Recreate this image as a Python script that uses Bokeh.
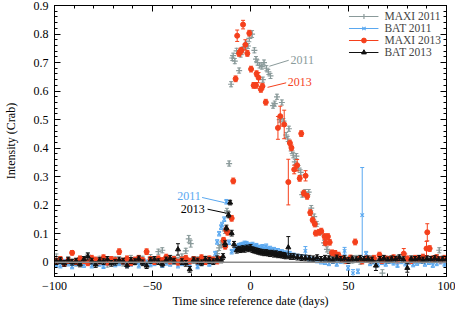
from bokeh.plotting import figure
from bokeh.models import (Range1d, LinearAxis, Span, Label, Legend, LegendItem,
                          ColumnDataSource, Arrow, SingleIntervalTicker, CustomJSTickFormatter)
from bokeh.embed import file_html
from bokeh.resources import INLINE

FONT = "Liberation Serif"

# ---------------- data ----------------
maxi11_t = [-99, -97, -95, -93, -91, -89, -87, -85, -83, -81, -79, -77, -75, -73, -71, -69,
            -67, -65, -63, -61, -59, -57, -55, -53, -51, -49, -47, -45, -43, -41, -39, -37,
            -35, -33, -31.5, -30.5, -29, -27, -25, -23, -21, -19, -17, -16, -15, -14, -13, -12,
            -10.9, -9.9, -9.3, -8.8, -8, -7.1, -5.8, -5, -4, -3, -2.1, -1.3, -0.6, 0.8,
            2, 2.8, 3.6, 4.6, 5.8, 6.3, 6.9, 8.1, 9.1, 10.2, 11.5, 12.4, 13.5, 14.9, 16, 16.8,
            18.2, 19, 19.6, 21, 21.8, 22.6, 23.4, 24.5, 25.6, 26.4, 27.9, 29.7, 31, 32.5, 33.8, 35.8,
            37.5, 39, 40.5, 42, 44,
            46, 48, 50, 52, 54, 56, 58, 60, 62, 64, 66, 67.3, 69, 71, 73, 75,
            77, 79, 81, 83, 85, 87, 89, 91, 93, 95, 96.3, 98, 99.5]
maxi11_v = [0.020, 0.004, -0.006, 0.008, 0.002, -0.004, 0.010, 0.006, 0.025, 0.004, -0.002, 0.012, 0.006, -0.008, 0.004, 0.010,
            0.002, -0.004, 0.008, 0.015, 0.000, 0.006, 0.012, -0.005, 0.018, 0.010, 0.037, 0.042, 0.010, 0.004, 0.012, 0.008,
            0.020, 0.040, 0.082, 0.065, 0.006, 0.010, 0.000, 0.012, 0.004, 0.010, 0.030, 0.050, 0.062, 0.075, 0.110, 0.180,
            0.346, 0.624, 0.716, 0.724, 0.705, 0.741, 0.672, 0.728, 0.745, 0.755, 0.766, 0.758, 0.785, 0.800,
            0.743, 0.712, 0.700, 0.690, 0.686, 0.640, 0.700, 0.680, 0.667, 0.653, 0.549, 0.556, 0.580, 0.500, 0.560, 0.495,
            0.446, 0.432, 0.468, 0.390, 0.375, 0.352, 0.372, 0.330, 0.315, 0.237, 0.246, 0.246, 0.190, 0.160, 0.134, 0.105,
            0.068, 0.045, 0.031, 0.020, 0.015,
            0.010, 0.004, 0.012, 0.006, 0.015, 0.002, 0.010, 0.008, 0.014, 0.004, 0.010, -0.038, 0.006, 0.012, 0.004, 0.015,
            0.008, 0.020, 0.006, 0.010, 0.004, 0.014, 0.008, 0.012, 0.006, 0.018, 0.042, 0.010, 0.006]
maxi11_err_default = 0.009
maxi11_err_special = {-31.5: 0.012, -30.5: 0.012, 0.8: 0.012, -0.6: 0.012, 67.3: 0.012}

bat11_t = [-99, -97, -95, -93, -91, -89, -87, -85, -83, -81, -79, -77, -75, -73, -71, -69,
           -67, -65, -63, -61, -59, -57, -55, -53, -51, -49, -47, -45, -43, -41, -39, -37,
           -35, -33, -31, -29, -27, -25, -23, -21, -19,
           -18, -17, -16, -15, -14.5, -13.4, -12.3, -11, -9.6,
           -8, -7, -6, -5, -4, -3, -2, -1, 0, 1, 2, 3, 4, 5, 6, 7, 8, 9, 10, 11, 12, 13, 14, 15, 16, 17, 18, 19, 20,
           22, 24, 26, 28, 30, 32, 34, 36, 38, 40, 42, 44, 46, 48, 49.8, 52.3, 54.8, 57, 59,
           61, 63, 65, 67, 69, 71, 73, 75, 77, 79, 81, 83, 85, 87, 89, 91, 93, 95, 97, 99]
bat11_v = [-0.008, -0.012, 0.002, -0.005, -0.015, -0.004, 0.004, -0.010, -0.002, -0.012, 0.003, -0.006, -0.014, -0.002, 0.006, -0.008,
           -0.004, 0.002, -0.010, -0.006, 0.004, -0.012, -0.003, 0.000, -0.008, -0.004, 0.006, -0.010, -0.002, -0.006, 0.003, -0.012,
           -0.004, 0.002, -0.008, 0.010, -0.015, -0.004, 0.002, -0.006, 0.005,
           0.030, 0.071, 0.100, 0.123, 0.132, 0.151, 0.212, 0.070, 0.037,
           0.045, 0.052, 0.058, 0.060, 0.062, 0.066, 0.065, 0.060, 0.058, 0.062, 0.055, 0.058, 0.052, 0.050, 0.054, 0.050,
           0.056, 0.046, 0.048, 0.040, 0.044, 0.038, 0.040, 0.034, 0.036, 0.030, 0.032, 0.028, 0.030,
           0.024, 0.020, 0.018, 0.040, 0.012, 0.008, 0.006, 0.002, 0.000, -0.004, 0.004, -0.006, 0.004, 0.040, -0.020, -0.038, -0.032, 0.165, 0.030,
           -0.004, 0.002, -0.008, 0.000, -0.006, 0.004, -0.002, -0.010, 0.003, -0.005, 0.001, -0.008, -0.003, 0.004, -0.006, 0.000,
           -0.010, -0.004, 0.002, -0.006]
bat11_err_default = 0.008
bat11_err_special = {57: 0.167, 28: 0.015, 48: 0.012, 52.3: 0.012}

maxi13_t = [-99, -97, -95, -93, -91, -89, -87, -85, -83, -81, -79, -77, -75, -73, -71, -69,
            -67, -65, -63, -61, -59, -57, -55, -53, -51, -49, -47, -45, -43, -41, -39, -37,
            -35, -33, -31, -29, -27, -25, -23, -21, -19, -17,
            -15.7, -13.7, -12.9, -12.4, -11.7, -9.6, -8.8, -7.6, -6.8, -5.8, -5.1, -4.6, -3.8, -2.6, -1.6, -0.6,
            0.3, 1.6, 2.8, 3.1, 4.1, 5.3, 6.1, 7.8, 14.0, 15.2, 17.2, 19.3, 20.1, 20.9, 22.3, 23.8,
            25.1, 25.9, 27.2, 28.1, 28.9, 30.5, 31.7, 32.8, 33.3, 35.0, 36.1, 37.8, 38.3, 39.5, 40.4, 41.6,
            43.2, 44.9,
            47, 49, 51, 53.4, 55, 57, 59, 61, 63, 65.8, 67, 69, 71, 73, 75, 78.2,
            80, 82, 84, 86, 88, 89.8, 90.2, 91.4, 93, 95, 97, 99]
maxi13_v = [0.004, 0.010, -0.004, 0.006, 0.033, 0.002, 0.012, 0.006, -0.002, 0.014, 0.008, 0.004, 0.016, 0.000, 0.010, 0.006,
            0.037, 0.004, 0.012, -0.002, 0.008, 0.014, 0.006, 0.037, 0.010, 0.002, 0.012, 0.006, 0.018, 0.004, 0.010, 0.000,
            0.008, 0.014, 0.004, 0.010, 0.006, 0.016, 0.002, 0.012, 0.008, 0.004,
            0.010, 0.077, 0.056, 0.113, 0.105, 0.154, 0.285, 0.643, 0.794, 0.732, 0.740, 0.743, 0.833, 0.762, 0.732, 0.803,
            0.677, 0.620, 0.620, 0.661, 0.647, 0.606, 0.617, 0.561, 0.471, 0.512, 0.483, 0.281, 0.418, 0.401, 0.325, 0.340,
            0.294, 0.451, 0.242, 0.303, 0.231, 0.174, 0.148, 0.134, 0.102, 0.105, 0.109, 0.090, 0.068, 0.090, 0.070, 0.033,
            0.031, 0.025,
            0.012, 0.006, 0.015, 0.071, 0.010, 0.004, 0.012, 0.008, 0.014, 0.025, 0.006, 0.012, 0.010, 0.016, 0.008, 0.030,
            0.012, 0.006, 0.014, 0.010, 0.018, 0.048, 0.105, 0.048, 0.012, 0.016, 0.008, 0.014]
maxi13_err_default = 0.010
maxi13_err_special = {-91: 0.008, -67: 0.010, -6.8: 0.020, -3.8: 0.015, -2.6: 0.018, 14.0: 0.040, 15.2: 0.035,
                      17.2: 0.050, 19.3: 0.080, 22.3: 0.015, 23.8: 0.020, 28.1: 0.018, 89.8: 0.025, 90.2: 0.030,
                      78.2: 0.018, 4.1: 0.018}

bat13_t = [-99, -97, -95, -93, -91, -89, -87, -85, -83, -81, -79, -77, -75, -73, -71, -69,
           -67, -65, -63, -61, -59, -57, -55, -53, -51, -49, -47, -45, -43, -41, -39, -37,
           -35, -33, -31, -29, -27, -25, -23, -21, -19, -17, -15,
           -14, -13, -12.3, -11.2, -10.4, -9.6, -8.4, -7, -6, -5, -4, -3, -2, -1, 0, 1,
           2, 3, 4, 5, 6, 7, 8, 9, 10, 11, 12, 13, 14, 15, 16, 17, 18, 19.3, 20.5, 22, 24, 26, 28,
           30, 32, 34, 36, 38, 40, 42, 44, 46, 48, 50, 52, 54, 56, 58, 60, 62, 64,
           66, 68, 70, 72, 74, 76, 78, 80, 82, 84, 86, 88, 90, 92, 94, 96, 98, 100]
bat13_v = [0.002, 0.006, -0.004, 0.008, 0.000, 0.004, -0.006, 0.010, 0.020, 0.004, -0.008, 0.006, 0.002, 0.010, -0.004, 0.000,
           0.008, 0.004, -0.010, 0.006, 0.002, 0.012, -0.002, -0.012, 0.006, 0.010, 0.002, -0.006, 0.008, 0.014, 0.004, 0.045,
           0.002, -0.004, -0.025, 0.008, 0.004, -0.002, 0.010, 0.006, 0.002, 0.012, 0.008,
           0.020, 0.065, 0.120, 0.166, 0.209, 0.102, 0.063, 0.042, 0.046, 0.044, 0.048, 0.045, 0.050, 0.047, 0.052, 0.044,
           0.042, 0.040, 0.038, 0.036, 0.035, 0.033, 0.034, 0.032, 0.030, 0.032, 0.028, 0.030, 0.026, 0.027, 0.025, 0.024,
           0.022, 0.052, 0.020, 0.020, 0.018, 0.016, 0.015,
           0.014, 0.012, 0.016, 0.010, 0.014, 0.012, 0.008, 0.015, 0.010, 0.013, 0.006, 0.012, 0.009, 0.014, 0.010, 0.012,
           0.008, -0.012, 0.010, 0.014, 0.008, 0.012, 0.010, 0.016, 0.009, -0.020, 0.012, 0.010, 0.014, 0.008, 0.012, 0.010,
           0.013, 0.009, 0.011, 0.010]
bat13_err_default = 0.010
bat13_err_special = {-37: 0.020, -31: 0.010, -83: 0.012, 19.3: 0.038, 64: 0.017, 80: 0.015, -10.4: 0.008}

x_ticks_interval = 50
y_ticks_interval = 0.1

for a, b in [(maxi11_t, maxi11_v), (bat11_t, bat11_v), (maxi13_t, maxi13_v), (bat13_t, bat13_v)]:
    assert len(a) == len(b), (len(a), len(b))

# ---------------- figure ----------------
p = figure(width=455, height=314, output_backend="svg", toolbar_location=None,
           x_range=Range1d(-100, 100), y_range=Range1d(-0.05, 0.9),
           min_border_left=48, min_border_right=9, min_border_top=5, min_border_bottom=38)
p.background_fill_color = "white"
p.border_fill_color = "white"
p.outline_line_color = "black"
p.outline_line_width = 1
p.xgrid.visible = False
p.ygrid.visible = False

zero = Span(location=0, dimension="width", line_color="#8c8c8c", line_width=1.5)
p.add_layout(zero)


def series(t, v, default, special, color, marker, size, label):
    err = [special.get(ti, default) for ti in t]
    src = ColumnDataSource(dict(t=t, v=v, lo=[a - b for a, b in zip(v, err)],
                                hi=[a + b for a, b in zip(v, err)]))
    seg = p.segment(x0="t", y0="lo", x1="t", y1="hi", source=src, line_color=color, line_width=1)
    p.scatter(x="t", y="lo", source=src, marker="dash", size=4, line_color=color, line_width=1)
    p.scatter(x="t", y="hi", source=src, marker="dash", size=4, line_color=color, line_width=1)
    if marker in ("cross", "x"):
        sc = p.scatter(x="t", y="v", source=src, marker=marker, size=size, line_color=color, line_width=1.2)
    else:
        sc = p.scatter(x="t", y="v", source=src, marker=marker, size=size, fill_color=color, line_color=color)
    return LegendItem(label=label, renderers=[seg, sc])


GRAY = "#8a9a9a"
BLUE = "#5aa8f0"
RED = "#f5401c"
BLACK = "#111111"

items = [
    series(maxi11_t, maxi11_v, maxi11_err_default, maxi11_err_special, GRAY, "cross", 6, "MAXI 2011"),
    series(bat11_t, bat11_v, bat11_err_default, bat11_err_special, BLUE, "x", 5, "BAT 2011"),
    series(maxi13_t, maxi13_v, maxi13_err_default, maxi13_err_special, RED, "circle", 5, "MAXI 2013"),
    series(bat13_t, bat13_v, bat13_err_default, bat13_err_special, BLACK, "triangle", 5, "BAT 2013"),
]

legend = Legend(items=items, location="top_right", label_text_font=FONT, label_text_font_size="11.5px",
                background_fill_alpha=0, border_line_alpha=0, spacing=0, label_height=12, glyph_height=12,
                glyph_width=30, label_standoff=6, padding=2, margin=3)
p.add_layout(legend)

# ---------------- annotations ----------------
def note(x, y, text, color, align, lx0, ly0, lx1, ly1):
    p.add_layout(Arrow(end=None, x_start=lx0, y_start=ly0, x_end=lx1, y_end=ly1,
                       line_color=color, line_width=1))
    p.add_layout(Label(x=x, y=y, text=text, text_color=color, text_font=FONT, text_font_size="12px",
                       text_align=align, text_baseline="middle"))


note(20.4, 0.708, "2011", GRAY, "left", 9.6, 0.687, 19.5, 0.708)
note(19.0, 0.632, "2013", RED, "left", 8.7, 0.613, 18.2, 0.629)
note(-25.4, 0.231, "2011", BLUE, "right", -24.7, 0.227, -13.3, 0.209)
note(-23.4, 0.186, "2013", "black", "right", -21.9, 0.186, -12.3, 0.172)

# ---------------- axes ----------------
def style_axis(ax, ticker, labels=True):
    ax.ticker = ticker
    ax.axis_line_color = "black"
    ax.major_tick_in = 6
    ax.major_tick_out = 0
    ax.minor_tick_in = 3
    ax.minor_tick_out = 0
    ax.major_tick_line_color = "black"
    ax.minor_tick_line_color = "black"
    ax.major_label_text_font = FONT
    ax.major_label_text_font_size = "12px"
    ax.major_label_text_color = "black"
    ax.axis_label_text_font = FONT
    ax.axis_label_text_font_size = "12px"
    ax.axis_label_text_font_style = "normal"
    ax.axis_label_text_color = "black"
    if not labels:
        ax.formatter = CustomJSTickFormatter(code="return '';")
        ax.major_label_standoff = 0


xt = SingleIntervalTicker(interval=x_ticks_interval, num_minor_ticks=5)
yt = SingleIntervalTicker(interval=y_ticks_interval, num_minor_ticks=5)

style_axis(p.xaxis[0], xt)
style_axis(p.yaxis[0], yt)
p.xaxis[0].axis_label = "Time since reference date (days)"
p.yaxis[0].axis_label = "Intensity (Crab)"
p.xaxis[0].major_label_standoff = 5
p.yaxis[0].major_label_standoff = 6
p.xaxis[0].axis_label_standoff = 1
p.yaxis[0].axis_label_standoff = 13
p.yaxis[0].major_label_overrides = {0: "0"}

top = LinearAxis()
style_axis(top, SingleIntervalTicker(interval=x_ticks_interval, num_minor_ticks=5), labels=False)
p.add_layout(top, "above")
right = LinearAxis()
style_axis(right, SingleIntervalTicker(interval=y_ticks_interval, num_minor_ticks=5), labels=False)
p.add_layout(right, "right")

open("out.html", "w").write(file_html(p, INLINE))
